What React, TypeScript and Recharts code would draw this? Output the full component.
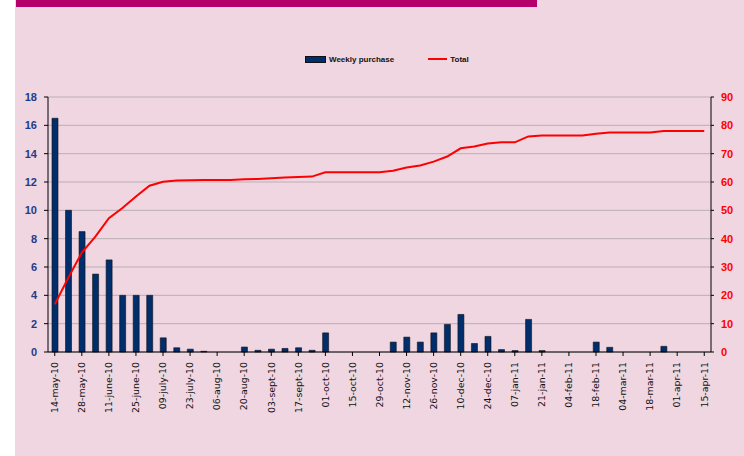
import React from 'react';
import { ComposedChart, Bar, Line, XAxis, YAxis, CartesianGrid } from 'recharts';

const weeks = [
  '14-may-10', '21-may-10', '28-may-10', '04-june-10', '11-june-10', '18-june-10', '25-june-10',
  '02-july-10', '09-july-10', '16-july-10', '23-july-10', '30-july-10', '06-aug-10', '13-aug-10',
  '20-aug-10', '27-aug-10', '03-sept-10', '10-sept-10', '17-sept-10', '24-sept-10', '01-oct-10',
  '08-oct-10', '15-oct-10', '22-oct-10', '29-oct-10', '05-nov-10', '12-nov-10', '19-nov-10',
  '26-nov-10', '03-dec-10', '10-dec-10', '17-dec-10', '24-dec-10', '31-dec-10', '07-jan-11',
  '14-jan-11', '21-jan-11', '28-jan-11', '04-feb-11', '11-feb-11', '18-feb-11', '25-feb-11',
  '04-mar-11', '11-mar-11', '18-mar-11', '25-mar-11', '01-apr-11', '08-apr-11', '15-apr-11',
];

const weeklyPurchase = [
  16.5, 10, 8.5, 5.5, 6.5, 4, 4, 4, 1, 0.3, 0.2, 0.05, 0, 0,
  0.35, 0.12, 0.2, 0.25, 0.3, 0.12, 1.35, 0, 0, 0, 0, 0.7, 1.05, 0.7,
  1.35, 1.95, 2.65, 0.6, 1.1, 0.17, 0.1, 2.3, 0.1, 0, 0, 0, 0.7, 0.33,
  0, 0, 0, 0.4, 0, 0, 0,
];

const total = [
  16.8, 26.2, 35.1, 40.7, 47.2, 50.8, 54.9, 58.7, 60.1, 60.5, 60.6, 60.7, 60.7, 60.7,
  61.0, 61.1, 61.3, 61.6, 61.8, 61.9, 63.4, 63.4, 63.4, 63.4, 63.4, 64.0, 65.1, 65.8,
  67.2, 69.0, 71.9, 72.5, 73.6, 74.0, 74.0, 76.1, 76.4, 76.4, 76.4, 76.4, 77.0, 77.5,
  77.5, 77.5, 77.5, 78.0, 78.0, 78.0, 78.0,
];

const leftTicks = [0, 2, 4, 6, 8, 10, 12, 14, 16, 18];
const rightTicks = [0, 10, 20, 30, 40, 50, 60, 70, 80, 90];

const data = weeks.map((week, i) => ({ week, weekly: weeklyPurchase[i], total: total[i] }));

const DateTick = (props: any) => {
  const { x, y, payload } = props;
  return (
    <text
      x={x}
      y={y + 4}
      transform={`rotate(-90, ${x}, ${y + 4})`}
      textAnchor="end"
      dy="0.35em"
      fontSize={9.4}
      fontFamily="DejaVu Sans, sans-serif"
      fill="#111"
    >
      {payload.value}
    </text>
  );
};

const App: React.FC = () => (
  <div style={{ position: 'absolute', top: 0, left: 0, width: 744, height: 456, background: '#fff', overflow: 'hidden' }}>
    <div style={{ position: 'absolute', left: 15, top: 0, width: 729, height: 456, background: '#EFD6E1' }} />
    <div style={{ position: 'absolute', left: 16, top: 0, width: 521, height: 7, background: '#B5006B' }} />

    {/* legend */}
    <div style={{ position: 'absolute', top: 52, left: 305, height: 14, display: 'flex', alignItems: 'center', fontFamily: 'Liberation Sans, Arial, sans-serif', fontWeight: 'bold', fontSize: 8, color: '#111' }}>
      <span style={{ display: 'inline-block', width: 19, height: 5, background: '#002D6B', border: '0.5px solid #111', marginRight: 3 }} />
      <span>Weekly purchase</span>
      <span style={{ display: 'inline-block', width: 19, height: 2, background: '#FF0000', marginLeft: 34, marginRight: 3 }} />
      <span>Total</span>
    </div>

    <div style={{ position: 'absolute', top: 0, left: 0 }}>
      <ComposedChart width={744} height={456} data={data} margin={{ top: 97, right: 0, left: 0, bottom: 0 }} barCategoryGap={0}>
        <CartesianGrid yAxisId="left" vertical={false} stroke="#BCAEB4" strokeWidth={1} />
        <XAxis
          dataKey="week"
          interval={1}
          height={104}
          tick={<DateTick />}
          axisLine={{ stroke: '#000' }}
          tickLine={{ stroke: '#000' }}
          tickSize={4}
        />
        <YAxis
          yAxisId="left"
          orientation="left"
          width={48}
          domain={[0, 18]}
          ticks={leftTicks}
          interval={0}
          axisLine={{ stroke: '#000' }}
          tickLine={{ stroke: '#000' }}
          tickSize={4}
          tickMargin={7}
          tick={{ fill: '#1F3C88', fontSize: 11, fontWeight: 'bold', fontFamily: 'Liberation Sans, Arial, sans-serif' }}
        />
        <YAxis
          yAxisId="right"
          orientation="right"
          width={33}
          domain={[0, 90]}
          ticks={rightTicks}
          interval={0}
          axisLine={{ stroke: '#000' }}
          tickLine={{ stroke: '#000' }}
          tickSize={3}
          tickMargin={7}
          tick={{ fill: '#FF0000', fontSize: 11, fontWeight: 'bold', fontFamily: 'Liberation Sans, Arial, sans-serif' }}
        />
        <Bar yAxisId="left" dataKey="weekly" fill="#002D6B" stroke="#111" strokeWidth={0.6} barSize={6} isAnimationActive={false} />
        <Line yAxisId="right" type="linear" dataKey="total" stroke="#FF0000" strokeWidth={2} dot={false} activeDot={false} isAnimationActive={false} />
      </ComposedChart>
    </div>
  </div>
);

export default App;
